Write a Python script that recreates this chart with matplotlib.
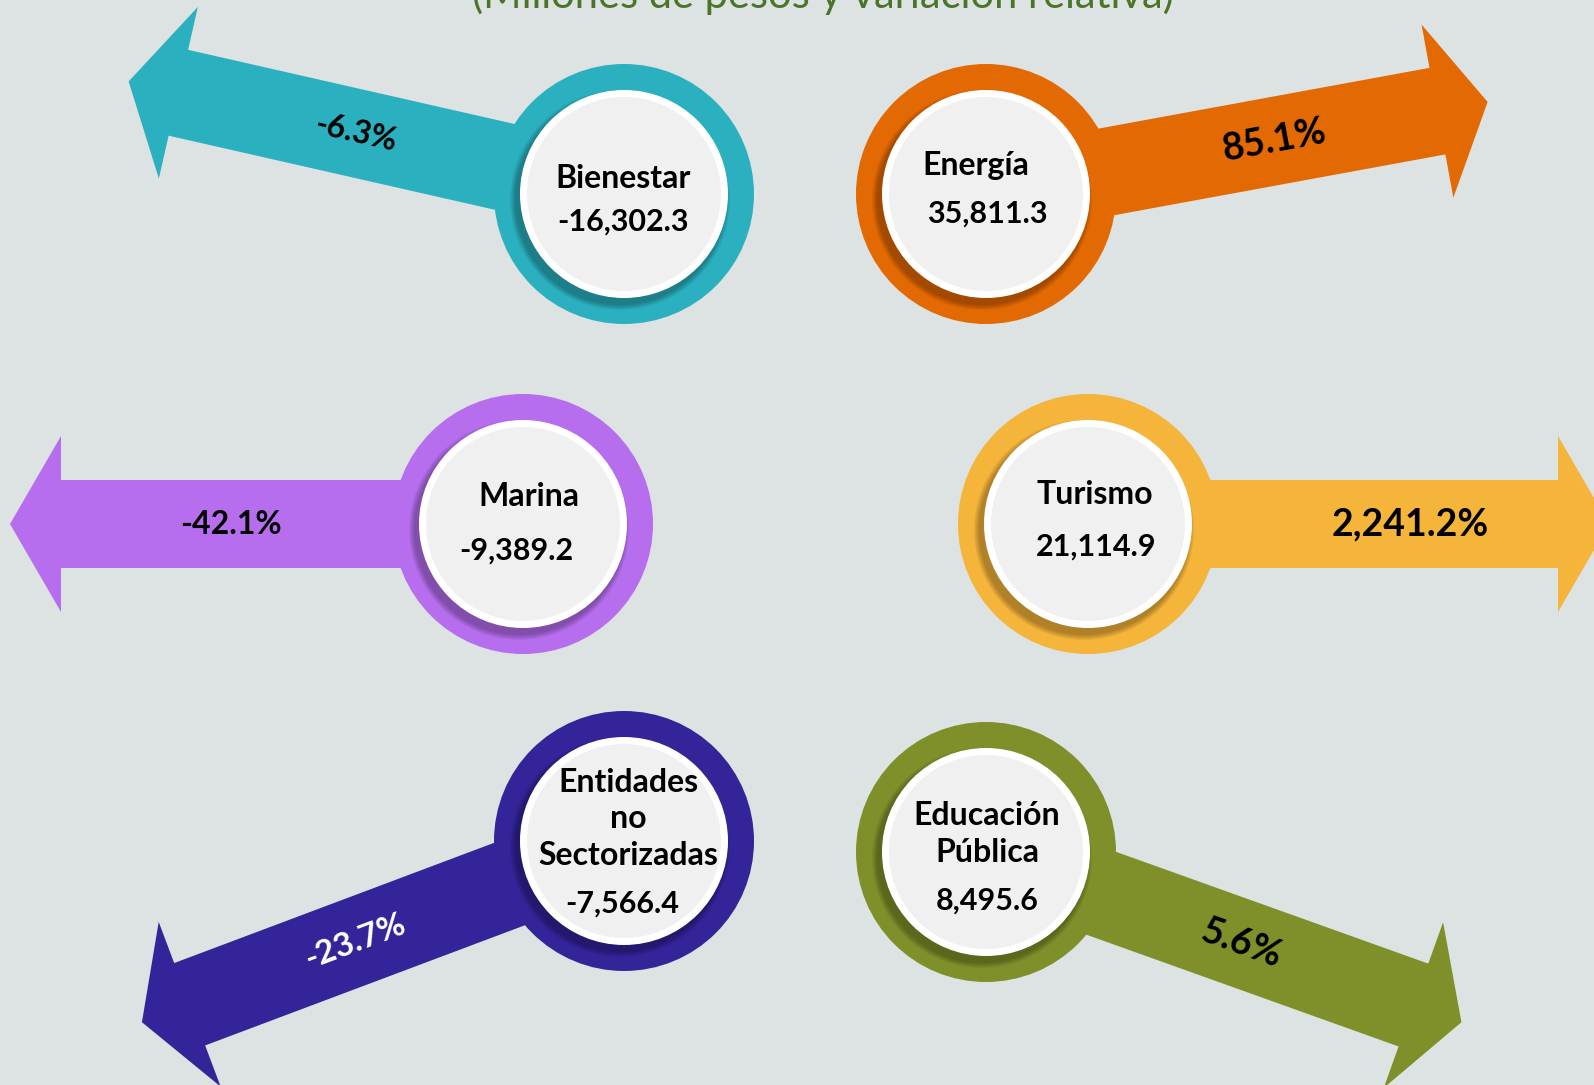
import numpy as np
import matplotlib.pyplot as plt
from matplotlib.patches import Circle, Polygon

# datos
sectores = ['Bienestar', 'Energía', 'Marina', 'Turismo',
            'Entidades\nno\nSectorizadas', 'Educación\nPública']
montos = [-16302.3, 35811.3, -9389.2, 21114.9, -7566.4, 8495.6]
variacion = [-6.3, 85.1, -42.1, 2241.2, -23.7, 5.6]
colores = ['#2BB0BF', '#E36903', '#B66EEF', '#F5B43A', '#34249A', '#7F902B']
color_pct = ['black', 'black', 'black', 'black', 'white', 'black']
titulo = '(Millones de pesos y variación relativa)'

# disposicion (pixeles, y hacia abajo)
centros = [(624, 194), (986, 194), (523, 524), (1088, 524), (624, 841), (986, 852)]
angulos = [167.2, 10.4, 180.0, 0.0, 200.6, -19.7]
largo = [508, 510, 513, 521, 515, 505]
dist_pct = [275, 293, 292, 322, 287, 271]
size_pct = [23, 27, 23, 27, 24, 27]
off_nombre = [(-1, -16), (-10, -28), (6, -27), (7, -29), (4, -22), (1, -18)]
off_monto = [(-1, 28), (1, 20), (-7, 27), (8, 23), (-2, 63), (1, 49)]

R_OUT, R_IN, R_CORE = 130, 104, 97
SHAFT, HEAD_W, HEAD_L = 44, 88, 51
FONT = ['Lato', 'DejaVu Sans']
BG = '#DDE2E2'

W, H = 1594, 1085
fig = plt.figure(figsize=(W / 100, H / 100), dpi=100)
fig.patch.set_facecolor(BG)
ax = fig.add_axes([0, 0, 1, 1])
ax.set_xlim(0, W)
ax.set_ylim(H, 0)
ax.axis('off')

ax.text(823, 8, titulo, ha='center', va='baseline', fontsize=30,
        color='#4A7529', family=FONT, zorder=5)

for i in range(len(sectores)):
    cx, cy = centros[i]
    a = np.radians(angulos[i])
    u = np.array([np.cos(a), -np.sin(a)])
    n = np.array([-u[1], u[0]])
    c = np.array([cx, cy], dtype=float)
    tip = c + largo[i] * u
    base = tip - HEAD_L * u
    pts = [c + SHAFT * n, base + SHAFT * n, base + HEAD_W * n, tip,
           base - HEAD_W * n, base - SHAFT * n, c - SHAFT * n]
    ax.add_patch(Polygon(pts, closed=True, facecolor=colores[i],
                         edgecolor='none', zorder=1))

    # circulo exterior y sombra
    ax.add_patch(Circle((cx, cy), R_OUT, facecolor=colores[i], edgecolor='none', zorder=2))
    for k in range(6):
        ax.add_patch(Circle((cx - 4, cy + 6), R_IN + 6 - k, facecolor='black',
                            edgecolor='none', alpha=0.05, zorder=3))
    ax.add_patch(Circle((cx, cy), R_IN, facecolor='white', edgecolor='none', zorder=4))
    ax.add_patch(Circle((cx, cy), R_CORE, facecolor='#F0F0F0', edgecolor='none', zorder=4))

    # textos del circulo
    ax.text(cx + off_nombre[i][0], cy + off_nombre[i][1], sectores[i],
            ha='center', va='center', fontsize=23, fontweight='bold',
            family=FONT, linespacing=1.3, zorder=6)
    ax.text(cx + off_monto[i][0], cy + off_monto[i][1], f'{montos[i]:,.1f}',
            ha='center', va='center', fontsize=22, fontweight='bold',
            family=FONT, zorder=6)

    # variacion sobre la flecha
    p = c + dist_pct[i] * u
    rot = angulos[i] if np.cos(a) >= 0 else angulos[i] - 180
    ax.text(p[0], p[1], f'{variacion[i]:,.1f}%', ha='center', va='center',
            rotation=rot, rotation_mode='anchor', fontsize=size_pct[i],
            fontweight='bold', color=color_pct[i], family=FONT, zorder=6)

fig.savefig('out.png', dpi=100, facecolor=BG)
